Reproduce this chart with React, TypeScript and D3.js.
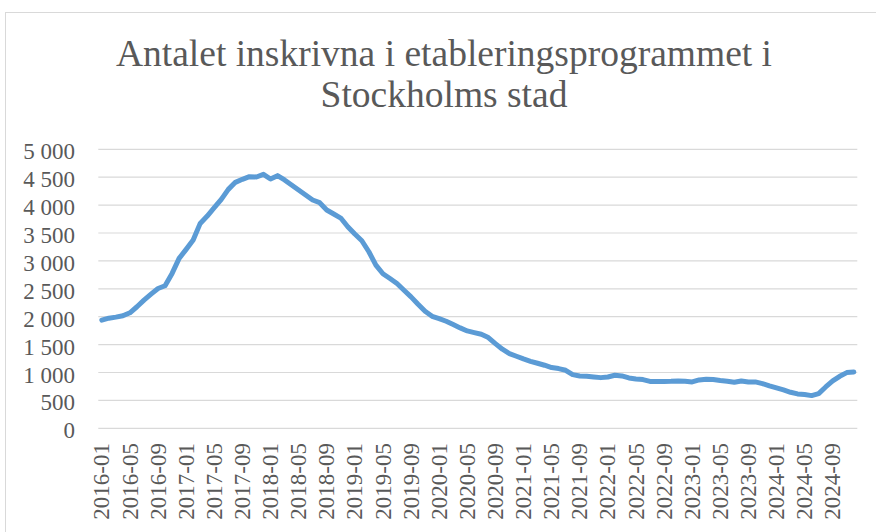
import React from "react";
import * as d3 from "d3";

const TITLE_LINES = ["Antalet inskrivna i etableringsprogrammet i", "Stockholms stad"];

const START_YEAR = 2016;
const MONTH_COUNT = 108;
const MONTHS: string[] = Array.from({ length: MONTH_COUNT }, (_, i) => {
  const y = START_YEAR + Math.floor(i / 12);
  const m = (i % 12) + 1;
  return `${y}-${m < 10 ? "0" + m : m}`;
});

const VALUES_2016 = [1938, 1974, 1992, 2016, 2070, 2178, 2297, 2405, 2506, 2554, 2776, 3045];
const VALUES_2017 = [3206, 3373, 3672, 3804, 3953, 4103, 4282, 4408, 4462, 4510, 4504, 4552];
const VALUES_2018 = [4468, 4528, 4450, 4360, 4270, 4181, 4091, 4043, 3912, 3840, 3768, 3612];
const VALUES_2019 = [3481, 3361, 3164, 2925, 2770, 2684, 2594, 2474, 2355, 2223, 2098, 2008];
const VALUES_2020 = [1966, 1919, 1859, 1799, 1745, 1715, 1685, 1626, 1518, 1417, 1339, 1291];
const VALUES_2021 = [1243, 1201, 1166, 1130, 1088, 1070, 1040, 962, 938, 932, 920, 908];
const VALUES_2022 = [920, 950, 938, 902, 885, 873, 840, 840, 840, 843, 849, 843];
const VALUES_2023 = [831, 867, 879, 873, 855, 843, 825, 849, 831, 831, 801, 759];
const VALUES_2024 = [723, 687, 646, 616, 604, 586, 622, 741, 849, 932, 998, 1010];

const VALUES = [
  ...VALUES_2016, ...VALUES_2017, ...VALUES_2018, ...VALUES_2019, ...VALUES_2020,
  ...VALUES_2021, ...VALUES_2022, ...VALUES_2023, ...VALUES_2024,
];

const Y_TICKS = [0, 500, 1000, 1500, 2000, 2500, 3000, 3500, 4000, 4500, 5000];
const X_LABEL_STEP = 4;

const fmt = (v: number) => (v >= 1000 ? `${Math.floor(v / 1000)} ${String(v % 1000).padStart(3, "0")}` : String(v));

export default function App() {
  const W = 876, H = 532;
  const left = 98.3, right = 857.3, top = 149.3, bottom = 428.3;
  const x = d3.scaleBand<string>().domain(MONTHS).range([left, right]).padding(0);
  const y = d3.scaleLinear().domain([0, 5000]).range([bottom, top]);
  const line = d3
    .line<number>()
    .x((_, i) => (x(MONTHS[i]) as number) + x.bandwidth() / 2)
    .y((d) => y(d));
  const grey = "#595959";
  const font = "'Liberation Serif', 'Times New Roman', serif";
  return (
    <svg width={W} height={H} style={{ position: "absolute", left: 0, top: 0, background: "#fff" }}>
      <rect x={0} y={0} width={W} height={H} fill="#fff" />
      <rect x={5.5} y={12.5} width={W + 20} height={H + 20} fill="#fff" stroke="#D9D9D9" strokeWidth={1} />
      {TITLE_LINES.map((t, i) => (
        <text key={t} x={444} y={66 + i * 41} textAnchor="middle" fontFamily={font} fontSize={37.5} fill={grey}>
          {t}
        </text>
      ))}
      {Y_TICKS.map((t) => (
        <g key={t}>
          <line x1={left} x2={right} y1={y(t)} y2={y(t)} stroke="#D9D9D9" strokeWidth={1.2} />
          <text x={75} y={y(t) + 10} textAnchor="end" fontFamily={font} fontSize={23} fill={grey}>
            {fmt(t)}
          </text>
        </g>
      ))}
      {MONTHS.filter((_, i) => i % X_LABEL_STEP === 0).map((m) => {
        const cx = (x(m) as number) + x.bandwidth() / 2;
        return (
          <text
            key={m}
            transform={`translate(${cx},443) rotate(-90)`}
            dy="0.33em"
            textAnchor="end"
            fontFamily={font}
            fontSize={23}
            fill={grey}
          >
            {m}
          </text>
        );
      })}
      <path
        d={line(VALUES) || ""}
        fill="none"
        stroke="#5B9BD5"
        strokeWidth={5}
        strokeLinejoin="round"
        strokeLinecap="round"
      />
    </svg>
  );
}
